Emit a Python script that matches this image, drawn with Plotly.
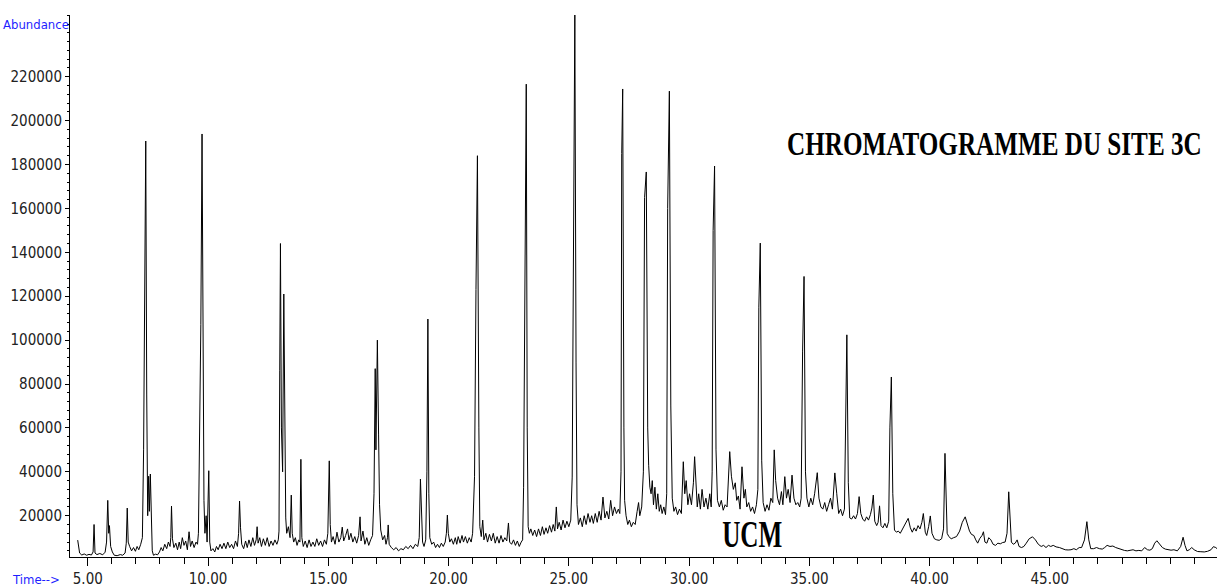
import json
import plotly.graph_objects as go

# Total ion chromatogram of site 3C, retention time (min) vs abundance.
# Trace is stored in consecutive retention-time windows; abundance in thousands of counts.

t_win1 = [
    4.58, 4.66, 4.75, 4.85, 4.95, 5.05, 5.15, 5.22, 5.26, 5.30,
    5.38, 5.50, 5.62, 5.72, 5.78, 5.83, 5.87, 5.90, 5.95, 6.02,
    6.10, 6.22, 6.35, 6.45, 6.55, 6.60, 6.64, 6.68, 6.74, 6.82,
    6.90, 6.98, 7.05, 7.12, 7.20, 7.27, 7.32, 7.36, 7.41, 7.45,
    7.49, 7.53, 7.56, 7.60, 7.64, 7.68, 7.73, 7.82, 7.90, 7.98,
    8.05, 8.12, 8.20, 8.28, 8.35, 8.42, 8.45, 8.48, 8.52, 8.58,
    8.66, 8.73, 8.80, 8.86, 8.93, 9.00, 9.07, 9.14, 9.21, 9.27,
    9.34, 9.42, 9.50, 9.56, 9.60, 9.66, 9.70, 9.75, 9.79, 9.83,
    9.87, 9.92, 9.96, 10.03, 10.07, 10.12,
]
a_win1 = [
    8.9, 3.0, 2.1, 2.6, 2.0, 2.4, 2.1, 3.5, 16.0, 3.0,
    2.3, 2.8, 2.2, 3.4, 8.0, 27.0, 12.0, 15.5, 6.0, 3.5,
    2.0, 1.8, 2.3, 2.0, 3.0, 7.5, 23.5, 8.0, 6.0, 4.0,
    5.5, 3.8, 6.0, 4.5, 7.0, 10.0, 50.0, 104.0, 190.7, 75.0,
    20.0, 38.0, 22.0, 39.0, 19.4, 4.0, 2.0, 2.5, 2.2, 3.5,
    5.5, 4.0, 7.0, 5.0, 8.0, 6.0, 10.0, 24.4, 9.5, 5.5,
    7.5, 4.5, 8.0, 5.0, 10.0, 6.5, 8.5, 4.5, 12.7, 6.0,
    8.5, 5.5, 8.0, 7.0, 12.0, 60.0, 107.0, 193.9, 100.0, 27.0,
    12.0, 20.0, 8.0, 40.5, 8.0, 4.0,
]

t_win2 = [
    10.20, 10.28, 10.35, 10.42, 10.50, 10.58, 10.66, 10.74, 10.82, 10.90,
    10.98, 11.06, 11.14, 11.22, 11.27, 11.31, 11.35, 11.40, 11.48, 11.56,
    11.63, 11.70, 11.78, 11.86, 11.93, 12.00, 12.04, 12.08, 12.15, 12.22,
    12.30, 12.38, 12.46, 12.54, 12.62, 12.70, 12.78, 12.86, 12.92, 12.95,
    12.98, 13.01, 13.05, 13.10, 13.15, 13.19, 13.23, 13.27, 13.34, 13.41,
    13.46, 13.50, 13.56, 13.63, 13.70, 13.77, 13.82, 13.86, 13.90, 13.96,
    14.04, 14.12, 14.20, 14.28, 14.36, 14.44, 14.52, 14.60, 14.68, 14.76,
    14.84, 14.92, 14.98, 15.04, 15.08, 15.13, 15.20, 15.28, 15.36, 15.44,
    15.52, 15.58, 15.64, 15.72, 15.80, 15.86, 15.94, 16.02, 16.10, 16.18,
    16.26, 16.32, 16.36, 16.44, 16.52, 16.60, 16.68, 16.76, 16.84, 16.90,
    16.95, 16.98, 17.04, 17.09, 17.13, 17.18, 17.26, 17.34, 17.40, 17.46,
    17.49, 17.53,
]
a_win2 = [
    5.0, 3.5, 6.0, 4.5, 7.0, 5.0, 7.5, 5.0, 8.0, 5.5,
    7.0, 5.0, 8.5, 6.0, 12.0, 26.7, 14.5, 7.0, 5.0, 8.5,
    5.5, 9.0, 6.0, 10.0, 6.5, 9.0, 15.0, 7.5, 10.0, 6.0,
    9.5, 6.5, 10.0, 6.0, 8.5, 6.5, 9.0, 7.0, 9.0, 13.0,
    86.0, 144.0, 60.0, 40.0, 121.0, 40.0, 19.0, 12.0, 15.0, 10.0,
    29.4, 12.0, 8.0, 10.0, 6.5, 9.0, 8.0, 45.7, 10.0, 6.0,
    8.5, 5.5, 9.0, 6.0, 8.0, 6.0, 9.5, 6.5, 8.5, 6.0,
    9.0, 7.0, 12.0, 45.0, 16.0, 8.0, 10.5, 7.0, 12.5, 8.0,
    10.0, 14.8, 8.5, 11.0, 14.0, 9.0, 12.0, 8.0, 10.5, 7.5,
    11.0, 19.5, 8.5, 13.0, 7.0, 10.0, 6.5, 9.0, 11.0, 30.0,
    87.0, 50.0, 100.0, 56.8, 25.0, 13.5, 9.0, 11.0, 7.0, 10.0,
    15.8, 7.0,
]

t_win3 = [
    17.62, 17.72, 17.82, 17.92, 18.02, 18.12, 18.22, 18.32, 18.42, 18.52,
    18.62, 18.72, 18.78, 18.83, 18.87, 18.92, 18.98, 19.05, 19.10, 19.14,
    19.18, 19.22, 19.30, 19.38, 19.46, 19.54, 19.62, 19.70, 19.78, 19.86,
    19.91, 19.95, 19.99, 20.05, 20.12, 20.20, 20.28, 20.34, 20.40, 20.48,
    20.56, 20.62, 20.70, 20.78, 20.86, 20.94, 21.00, 21.08, 21.14, 21.20,
    21.26, 21.30, 21.36, 21.42, 21.47, 21.55, 21.62, 21.70, 21.78, 21.86,
    21.94, 22.02, 22.10, 22.18, 22.26, 22.34, 22.42, 22.49, 22.54, 22.62,
    22.70, 22.78, 22.86, 22.94, 23.02, 23.08, 23.12, 23.15, 23.19, 23.23,
    23.27, 23.31, 23.36, 23.42, 23.50, 23.58, 23.66, 23.74, 23.82, 23.90,
    23.97, 24.05, 24.12, 24.20, 24.28, 24.35, 24.42, 24.48, 24.53, 24.60,
    24.68, 24.76, 24.84, 24.92, 25.00, 25.08,
]
a_win3 = [
    5.5, 4.5, 5.5, 4.0, 5.0, 4.5, 6.0, 5.0, 6.5, 5.0,
    7.0, 6.0, 10.0, 36.7, 25.0, 8.0, 6.0, 9.0, 40.0, 109.6,
    30.0, 10.0, 7.0, 8.0, 5.5, 7.0, 5.5, 7.5, 6.0, 8.0,
    12.0, 20.3, 12.0, 8.0, 9.5, 7.0, 10.0, 7.0, 10.5, 7.5,
    11.0, 8.0, 10.5, 7.5, 10.0, 8.0, 12.0, 38.0, 123.0, 184.0,
    60.0, 15.0, 10.5, 18.0, 9.0, 12.0, 8.0, 11.5, 8.5, 12.0,
    7.5, 10.5, 7.5, 11.0, 8.0, 10.0, 8.5, 16.7, 8.0, 7.0,
    9.0, 6.5, 8.5, 6.0, 8.0, 9.0, 33.0, 80.0, 180.0, 216.6,
    60.0, 15.0, 12.0, 14.0, 11.0, 13.5, 10.5, 14.0, 11.0, 15.0,
    11.5, 14.5, 12.0, 15.5, 12.5, 16.0, 13.0, 24.0, 14.0, 17.0,
    13.5, 18.0, 14.5, 17.5, 15.0, 18.0,
]

t_win4 = [
    25.14, 25.20, 25.25, 25.30, 25.34, 25.40, 25.48, 25.56, 25.64, 25.72,
    25.80, 25.88, 25.95, 26.02, 26.10, 26.18, 26.26, 26.34, 26.42, 26.50,
    26.58, 26.66, 26.74, 26.82, 26.90, 26.98, 27.06, 27.12, 27.17, 27.20,
    27.24, 27.29, 27.32, 27.38, 27.45, 27.52, 27.60, 27.68, 27.76, 27.84,
    27.90, 27.95, 28.03, 28.10, 28.15, 28.22, 28.28, 28.32, 28.37, 28.42,
    28.47, 28.52, 28.58, 28.64, 28.70, 28.76, 28.82, 28.88, 28.95, 29.02,
    29.07, 29.11, 29.18, 29.24, 29.30, 29.37, 29.44, 29.52, 29.60, 29.68,
    29.76, 29.82, 29.88, 29.95, 30.02, 30.10, 30.18, 30.23, 30.28, 30.34,
    30.40, 30.47, 30.54, 30.62, 30.70, 30.78, 30.86, 30.92, 30.96, 31.00,
    31.06, 31.12, 31.18, 31.26, 31.34, 31.42, 31.50, 31.58, 31.69, 31.76,
    31.84, 31.92, 31.98,
]
a_win4 = [
    37.6, 153.0, 248.5, 90.0, 25.0, 16.0, 19.0, 15.0, 20.0, 16.0,
    21.0, 17.0, 20.0, 16.5, 21.0, 17.0, 22.0, 18.0, 28.5, 19.0,
    22.0, 18.5, 27.0, 20.0, 24.0, 21.0, 23.0, 21.0, 40.0, 185.0,
    214.4, 60.0, 27.0, 20.0, 16.0, 18.0, 15.0, 17.0, 16.0, 22.0,
    26.0, 20.0, 24.0, 40.0, 165.0, 176.6, 60.0, 43.0, 33.0, 30.0,
    36.0, 25.0, 33.0, 23.0, 30.0, 22.0, 25.0, 21.0, 24.0, 20.5,
    30.0, 160.0, 213.4, 70.0, 28.0, 22.0, 24.0, 20.5, 23.0, 21.0,
    44.6, 30.0, 36.0, 25.0, 30.0, 25.0, 35.0, 46.9, 35.0, 24.0,
    30.0, 23.0, 32.0, 24.0, 28.0, 23.0, 30.0, 24.0, 40.0, 150.0,
    179.3, 50.0, 27.0, 24.0, 27.0, 22.5, 25.0, 24.0, 49.2, 38.0,
    32.0, 35.0, 27.0,
]

t_win5 = [
    32.05, 32.12, 32.20, 32.28, 32.34, 32.40, 32.48, 32.56, 32.64, 32.72,
    32.80, 32.86, 32.90, 32.96, 33.02, 33.08, 33.16, 33.24, 33.32, 33.40,
    33.48, 33.54, 33.60, 33.68, 33.76, 33.84, 33.90, 33.98, 34.05, 34.12,
    34.20, 34.28, 34.36, 34.44, 34.52, 34.60, 34.66, 34.72, 34.78, 34.84,
    34.90, 34.98, 35.06, 35.14, 35.22, 35.33, 35.40, 35.48, 35.56, 35.64,
    35.72, 35.80, 35.88, 35.96, 36.06, 36.14, 36.22, 36.30, 36.38, 36.46,
    36.52, 36.56, 36.62, 36.68, 36.76, 36.84, 36.92, 37.00, 37.07, 37.14,
    37.22, 37.30, 37.38, 37.46, 37.54, 37.60, 37.66, 37.72, 37.80, 37.86,
    37.92, 37.98, 38.06, 38.14, 38.22, 38.30, 38.35, 38.41, 38.47, 38.54,
    38.62, 38.70, 38.78, 38.86, 38.94, 39.04, 39.11, 39.20, 39.28, 39.36,
    39.44, 39.52, 39.60, 39.68, 39.74, 39.82, 39.88, 39.96, 40.03, 40.10,
]
a_win5 = [
    29.0, 23.0, 42.3, 28.0, 32.0, 24.0, 26.0, 22.0, 24.0, 21.0,
    25.0, 32.0, 115.0, 144.2, 45.0, 26.0, 22.0, 25.0, 22.5, 28.0,
    26.0, 50.0, 36.0, 28.0, 25.0, 31.0, 25.0, 37.8, 28.0, 32.0,
    26.0, 38.5, 28.0, 25.0, 26.0, 24.0, 28.0, 95.0, 129.0, 40.0,
    28.0, 24.0, 28.0, 25.0, 30.0, 39.6, 28.0, 24.0, 23.0, 26.0,
    22.0, 25.0, 28.0, 23.0, 39.5, 30.0, 21.0, 23.0, 20.0, 23.0,
    70.0, 102.4, 35.0, 19.0, 18.5, 20.0, 18.5, 21.0, 28.7, 21.0,
    18.5, 17.5, 19.5, 18.0, 20.5, 23.5, 29.4, 17.5, 15.5, 17.0,
    24.5, 15.5, 14.5, 16.5, 14.5, 17.5, 60.0, 83.2, 30.0, 13.5,
    12.5, 13.0, 12.0, 13.5, 15.0, 17.0, 18.8, 14.5, 12.5, 14.5,
    13.0, 15.5, 14.0, 17.0, 21.0, 12.5, 11.0, 15.0, 19.9, 12.0,
]

t_win6 = [
    40.20, 40.30, 40.40, 40.50, 40.58, 40.64, 40.67, 40.73, 40.80, 40.90,
    41.00, 41.12, 41.25, 41.36, 41.48, 41.58, 41.66, 41.74, 41.84, 41.92,
    42.00, 42.08, 42.18, 42.24, 42.30, 42.38, 42.46, 42.55, 42.64, 42.74,
    42.84, 42.94, 43.04, 43.14, 43.22, 43.29, 43.34, 43.40, 43.48, 43.56,
    43.64, 43.72, 43.82, 43.92, 44.02, 44.14, 44.28, 44.40, 44.52, 44.64,
    44.74, 44.84, 44.94, 45.04, 45.14, 45.26, 45.40, 45.52, 45.64, 45.76,
    45.88, 46.00, 46.10, 46.22, 46.32, 46.44, 46.54, 46.62, 46.70, 46.82,
    46.94, 47.06, 47.18, 47.28, 47.38, 47.50, 47.62, 47.74, 47.86, 47.98,
    48.10, 48.22, 48.34, 48.46, 48.58, 48.70, 48.82, 48.94, 49.06, 49.16,
    49.26, 49.36, 49.45, 49.56, 49.68, 49.80, 49.92, 50.04, 50.16, 50.30,
    50.44, 50.54, 50.62, 50.70, 50.80, 50.90, 51.00, 51.14, 51.28, 51.42,
    51.56, 51.70, 51.80, 51.90, 52.00, 52.15, 52.35, 52.60,
]
a_win6 = [
    9.5, 9.0, 8.8, 9.5, 14.0, 48.4, 33.0, 12.0, 10.5, 9.5,
    10.0, 10.5, 13.0, 17.0, 19.5, 16.0, 13.0, 11.5, 11.0, 9.0,
    7.5, 9.5, 11.0, 12.7, 8.0, 7.5, 10.0, 9.0, 7.0, 6.5,
    7.5, 7.2, 7.8, 8.0, 12.0, 30.9, 20.0, 8.0, 7.0, 7.5,
    9.0, 6.0, 5.5, 6.0, 7.5, 9.5, 10.4, 9.0, 7.0, 6.0,
    6.5, 5.5, 6.5, 6.0, 6.5, 5.8, 5.5, 5.0, 4.5, 4.4,
    4.5, 5.0, 4.5, 5.5, 5.5, 9.0, 17.3, 9.0, 5.0, 5.0,
    5.5, 5.0, 4.8, 5.5, 6.5, 6.0, 6.2, 5.5, 5.0, 4.8,
    4.2, 4.0, 4.1, 4.5, 4.0, 4.2, 4.0, 5.5, 4.5, 4.3,
    5.0, 7.5, 8.6, 7.0, 5.5, 4.8, 4.5, 4.3, 4.5, 4.0,
    6.0, 10.2, 6.5, 4.0, 4.5, 5.5, 4.5, 3.7, 3.6, 3.5,
    3.8, 4.5, 5.9, 5.5, 4.5, 4.0, 4.0, 4.0,
]

x_tick_vals = [5, 10, 15, 20, 25, 30, 35, 40, 45]
x_tick_text = ["5.00", "10.00", "15.00", "20.00", "25.00", "30.00", "35.00", "40.00", "45.00"]
y_tick_vals = [20000, 40000, 60000, 80000, 100000, 120000, 140000, 160000, 180000, 200000, 220000]
y_tick_text = ["20000", "40000", "60000", "80000", "100000", "120000", "140000",
               "160000", "180000", "200000", "220000"]

title_text = "CHROMATOGRAMME DU SITE 3C"
ucm_text = "UCM"

windows = [(t_win1, a_win1), (t_win2, a_win2), (t_win3, a_win3),
           (t_win4, a_win4), (t_win5, a_win5), (t_win6, a_win6)]
time_min = []
abundance = []
for tw, aw in windows:
    time_min.extend(tw)
    abundance.extend(v * 1000 for v in aw)

NARROW = "Liberation Sans Narrow, Arial Narrow, DejaVu Sans Condensed, sans-serif"
SERIF = "Liberation Serif, Times New Roman, serif"
BLUE = "#1f1fff"

fig = go.Figure()
fig.add_trace(go.Scatter(
    x=time_min, y=abundance, mode="lines",
    line=dict(color="black", width=1),
    hoverinfo="skip", showlegend=False,
))

fig.update_layout(
    width=1217, height=587,
    margin=dict(l=70, r=0, t=15, b=30),
    paper_bgcolor="white", plot_bgcolor="white",
    xaxis=dict(
        range=[4.26, 51.95], showgrid=False, zeroline=False,
        showline=True, linecolor="black", linewidth=1,
        ticks="outside", ticklen=8, tickwidth=1, tickcolor="black",
        tickmode="array", tickvals=x_tick_vals, ticktext=x_tick_text,
        tickfont=dict(family=NARROW, size=15, color="#222"),
        minor=dict(tickmode="array", tickvals=list(range(5, 53)),
                   ticks="outside", ticklen=6, tickcolor="black", tickwidth=1),
    ),
    yaxis=dict(
        range=[1200, 248100], showgrid=False, zeroline=False,
        showline=True, linecolor="black", linewidth=1,
        ticks="outside", ticklen=4, tickwidth=1, tickcolor="black",
        tickmode="array", tickvals=y_tick_vals, ticktext=y_tick_text,
        tickfont=dict(family=NARROW, size=15, color="#222"),
        minor=dict(tickmode="array", tickvals=list(range(4000, 248001, 4000)),
                   ticks="outside", ticklen=2, tickcolor="black", tickwidth=1),
    ),
    annotations=[
        dict(text="Abundance", xref="paper", yref="paper", x=0, y=1,
             xanchor="right", yanchor="middle", xshift=1, yshift=-9,
             showarrow=False, font=dict(family=NARROW, size=13, color=BLUE)),
        dict(text="Time-->", xref="paper", yref="paper", x=0, y=0,
             xanchor="left", yanchor="middle", xshift=-60, yshift=-22,
             showarrow=False, font=dict(family=NARROW, size=13, color=BLUE)),
        dict(text=title_text, xref="paper", yref="paper", x=0.8056, y=0.7638,
             xanchor="center", yanchor="middle", showarrow=False,
             font=dict(family=SERIF, size=34, color="black", weight="bold")),
        dict(text=ucm_text, xref="paper", yref="paper", x=0.5946, y=0.0406,
             xanchor="center", yanchor="middle", showarrow=False,
             font=dict(family=SERIF, size=37, color="black", weight="bold")),
    ],
)

# Horizontally condense the bold serif captions around their own centres.
squeeze = {title_text: 0.74, ucm_text: 0.68}
post_js = """
var gd = document.getElementById('{plot_id}');
var squeeze = %s;
gd.querySelectorAll('text.annotation-text').forEach(function (t) {
  var k = squeeze[t.textContent];
  if (!k) { return; }
  var b = t.getBBox();
  var cx = b.x + b.width / 2;
  t.setAttribute('transform',
    'translate(' + cx + ',0) scale(' + k + ',1) translate(' + (-cx) + ',0)');
});
""" % json.dumps(squeeze)

fig.write_html("out.html", post_script=post_js)
